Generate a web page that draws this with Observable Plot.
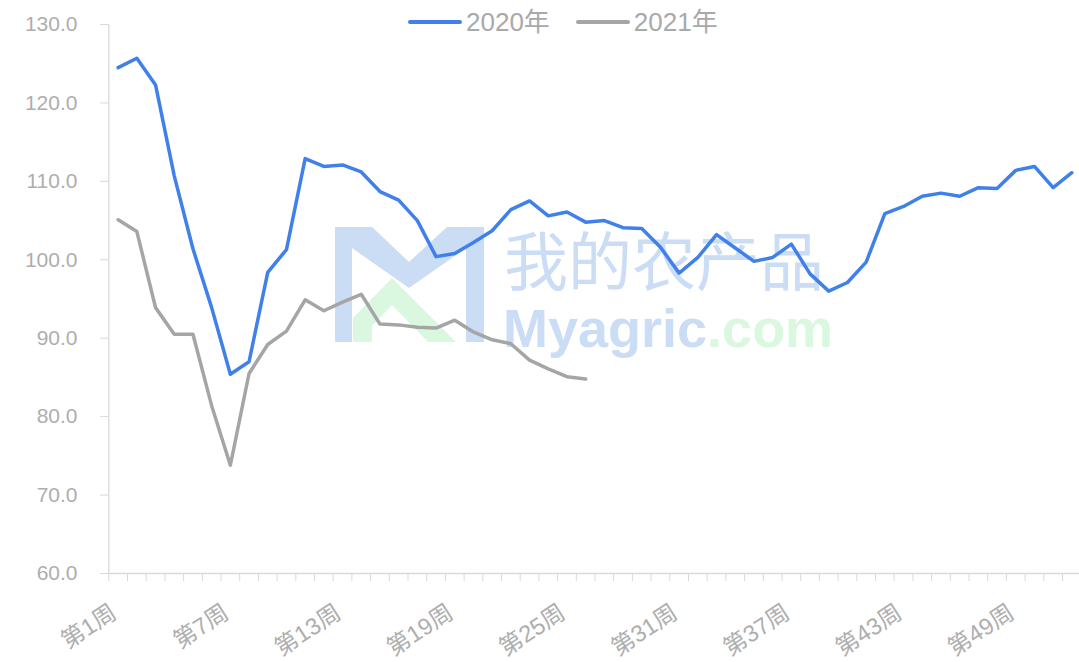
<!DOCTYPE html>
<html>
<head>
<meta charset="utf-8">
<script src="https://cdn.jsdelivr.net/npm/d3@7"></script>
<script src="https://cdn.jsdelivr.net/npm/@observablehq/plot@0.6"></script>
<style>
  body { margin: 0; background: #fff; }
  #wrap { position: relative; width: 1079px; height: 662px; overflow: hidden;
          font-family: "Liberation Sans", Arial, "Noto Sans CJK SC", sans-serif; }
  .legend { position: absolute; top: 8px; left: 408px; display: flex; align-items: center;
            font-size: 26px; line-height: 28px; color: #a9a9a9; }
  .legend .sw { width: 54px; height: 4px; border-radius: 2px; margin-right: 4px; }
  .legend .item { display: flex; align-items: center; margin-right: 26px; }
</style>
</head>
<body>
<div id="wrap"></div>
<script>
// ---- data ----
const weeks = [1,2,3,4,5,6,7,8,9,10,11,12,13,14,15,16,17,18,19,20,21,22,23,24,25,26,
               27,28,29,30,31,32,33,34,35,36,37,38,39,40,41,42,43,44,45,46,47,48,49,50,51,52];
const seriesNames = ["2020年", "2021年"];
const values2020 = [124.5,125.7,122.3,110.7,101.4,93.9,85.4,87.0,98.4,101.3,112.9,111.9,112.1,111.2,
                    108.7,107.6,105.0,100.4,100.8,102.2,103.7,106.4,107.5,105.6,106.1,104.8,105.0,
                    104.1,104.0,101.6,98.3,100.3,103.2,101.5,99.8,100.3,102.0,98.2,96.0,97.1,99.7,
                    105.9,106.8,108.1,108.5,108.1,109.2,109.1,111.4,111.9,109.2,111.1];
const values2021 = [105.1,103.6,93.9,90.5,90.5,81.4,73.8,85.5,89.2,90.9,94.9,93.5,94.6,95.6,
                    91.8,91.7,91.4,91.3,92.3,90.8,89.8,89.3,87.2,86.1,85.1,84.8];
const yTicks = [60,70,80,90,100,110,120,130];
const xLabelWeeks = [1,7,13,19,25,31,37,43,49];
const tickBoundaries = [0.5,1.5,2.5,3.5,4.5,5.5,6.5,7.5,8.5,9.5,10.5,11.5,12.5,13.5,14.5,15.5,16.5,17.5,
                        18.5,19.5,20.5,21.5,22.5,23.5,24.5,25.5,26.5,27.5,28.5,29.5,30.5,31.5,32.5,33.5,
                        34.5,35.5,36.5,37.5,38.5,39.5,40.5,41.5,42.5,43.5,44.5,45.5,46.5,47.5,48.5,49.5,
                        50.5,51.5];
const colors = ["#4080ea", "#a5a5a5"];

const rows2020 = values2020.map((v, i) => ({week: weeks[i], value: v}));
const rows2021 = values2021.map((v, i) => ({week: weeks[i], value: v}));

const axisColor = "#d9d9d9";
const textColor = "#aeaeae";

const chart = Plot.plot({
  width: 1079,
  height: 662,
  marginLeft: 108,
  marginRight: 0,
  marginTop: 24,
  marginBottom: 89,
  style: { background: "transparent", fontFamily: "'Liberation Sans', Arial, 'Noto Sans CJK SC', sans-serif", overflow: "visible" },
  x: { type: "linear", domain: [0.5, 52.5], range: [108.3, 1080.7] },
  y: { domain: [60, 130], range: [573, 24] },
  marks: [
    Plot.axisY({ ticks: yTicks, tickFormat: d => d.toFixed(1), tickSize: 8, tickPadding: 23,
                 stroke: axisColor, fill: textColor, fontSize: 21, label: null }),
    Plot.axisX({ ticks: tickBoundaries, tickSize: 8, text: null, stroke: axisColor, label: null }),
    Plot.ruleX([0.5], { y1: 60, y2: 130, stroke: axisColor, strokeWidth: 1.3 }),
    Plot.ruleY([60], { x1: 0.5, x2: 52.5, stroke: axisColor, strokeWidth: 1.3 }),
    Plot.text(xLabelWeeks, { x: d => d, y: 60, text: d => `第${d}周`, rotate: -33, textAnchor: "end",
                             lineAnchor: "middle", dx: -4, dy: 37, fill: textColor, fontSize: 23.5 }),
    Plot.line(rows2020, { x: "week", y: "value", stroke: colors[0], strokeWidth: 3.5, strokeLinejoin: "round" }),
    Plot.line(rows2021, { x: "week", y: "value", stroke: colors[1], strokeWidth: 3.5, strokeLinejoin: "round" })
  ]
});

// watermark (decoration, behind the marks)
const svg = d3.select(chart);
const wm = svg.insert("g", ":first-child").attr("pointer-events", "none").attr("text-anchor", "start");
wm.append("path")
  .attr("d", "M335,227 L372,227 L409,262 L447,227 L484,227 L484,342 L466,342 L466,248 L409,288 L352,248 L352,342 L335,342 Z")
  .attr("fill", "#cbdcf5");
wm.append("path")
  .attr("d", "M353,342 L353,318 L392,278 L456,342 L428,342 L392,305 L372,326 L372,342 Z")
  .attr("fill", "#d9f8df");
wm.append("text").attr("x", 504).attr("y", 285).attr("font-size", 64).attr("text-anchor", "start")
  .attr("font-family", "'Noto Sans CJK SC', sans-serif").attr("fill", "#cbdcf5").text("我的农产品");
const t2 = wm.append("text").attr("x", 503).attr("y", 347).attr("font-size", 54).attr("font-weight", "bold")
  .attr("text-anchor", "start").attr("font-family", "'Liberation Sans', Arial, sans-serif");
t2.append("tspan").attr("fill", "#cbdcf5").text("Myagric");
t2.append("tspan").attr("fill", "#d9f8df").text(".com");

const wrap = document.getElementById("wrap");
wrap.appendChild(chart);

// legend
const legend = document.createElement("div");
legend.className = "legend";
seriesNames.forEach((name, i) => {
  const item = document.createElement("div");
  item.className = "item";
  const sw = document.createElement("div");
  sw.className = "sw";
  sw.style.background = colors[i];
  const label = document.createElement("span");
  label.textContent = name;
  item.appendChild(sw);
  item.appendChild(label);
  legend.appendChild(item);
});
wrap.appendChild(legend);
</script>
</body>
</html>
